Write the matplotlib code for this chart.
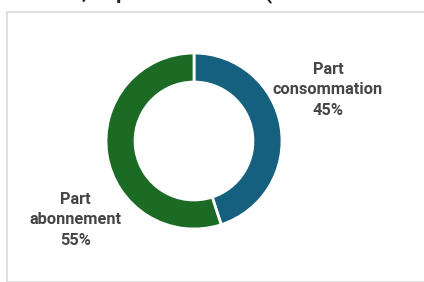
import matplotlib
matplotlib.use("Agg")
import matplotlib.pyplot as plt
from matplotlib.patches import Rectangle

labels = ["Part\nconsommation\n45%", "Part\nabonnement\n55%"]
values = [45, 55]
colors = ["#15607f", "#1c6b25"]
title = "Facture, répartition fixe (montants en euros TTC)"

W, H = 424, 282
fig = plt.figure(figsize=(W / 100, H / 100), dpi=100)
fig.patch.set_facecolor("white")

# card border
fig.patches.append(Rectangle((6.5 / W, 0), 1.0, (H - 11.5) / H, transform=fig.transFigure,
                             fill=False, edgecolor="#dcdcdc", linewidth=1.3))

fig.text(-3 / W, 1.0 + 2.0 / H, title, fontsize=18,
         fontweight="medium", fontfamily="Roboto", ha="left", va="baseline", color="#222222")

cx, cy, r = 194, 141, 88
ax = fig.add_axes([(cx - r) / W, (H - cy - r) / H, 2 * r / W, 2 * r / H])
ax.pie(values, colors=colors, startangle=90, counterclock=False,
       wedgeprops=dict(width=0.33, edgecolor="white", linewidth=2))
ax.set_aspect("equal")
ax.set_xlim(-1, 1)
ax.set_ylim(-1, 1)
ax.axis("off")

fig.text(328 / W, 1 - 90 / H, labels[0], fontsize=11.8, fontweight="bold", fontfamily="Roboto",
         ha="center", va="center", color="#454545", linespacing=1.45)
fig.text(75.5 / W, 1 - 220 / H, labels[1], fontsize=11.8, fontweight="bold", fontfamily="Roboto",
         ha="center", va="center", color="#454545", linespacing=1.45)

fig.savefig("out.png", dpi=100)
